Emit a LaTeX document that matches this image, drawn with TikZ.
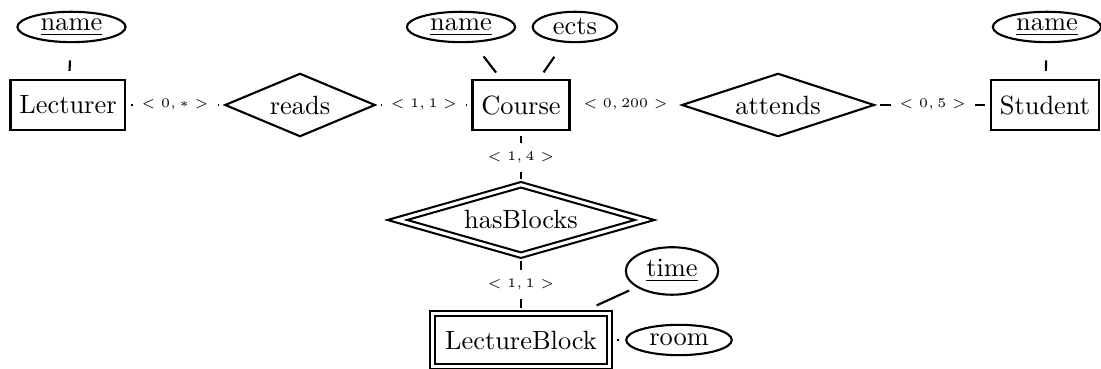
\documentclass[tikz,border=0pt]{standalone}
\usepackage{amsmath}
\usepackage{tikz}
\usetikzlibrary{shapes.geometric}

\begin{document}
\begin{tikzpicture}[
    entitybox/.style={draw, thick, rectangle, minimum height=19pt},
    weakbox/.style={entitybox, double, double distance=1.2pt, minimum width=67pt, minimum height=20pt},
    relship/.style={draw, thick, diamond, aspect=3, inner sep=0pt},
    weakrel/.style={relship, double, double distance=1.2pt},
    attrib/.style={draw, thick, ellipse, inner sep=0pt, minimum height=11.5pt},
    card/.style={fill=white, font=\tiny},
    conn/.style={thick, shorten <=1.8pt, shorten >=1.8pt},
    attrconn/.style={thick, shorten <=6.5pt, shorten >=3pt}
  ]
    \useasboundingbox (0,0) rectangle (14.66,4.90);

    % Lecturer
    \node[entitybox] (lecturer) at (0.905,3.502) {Lecturer};
    \node[attrib, minimum width=41pt] (lecname) at (0.952,4.541) {\underline{name}};
    \draw[attrconn] (lecname) -- (lecturer);

    % reads
    \node[relship, minimum width=57pt, minimum height=24pt] (reads) at (3.995,3.502) {reads};
    \draw[conn] (lecturer) -- node[card] {$<0,*>$} (reads);

    % Course
    \node[entitybox] (course) at (6.937,3.502) {Course};
    \node[attrib, minimum width=41pt] (coursename) at (6.138,4.541) {\underline{name}};
    \node[attrib, minimum width=32pt] (ects) at (7.656,4.541) {ects};
    \draw[attrconn] (coursename) -- (course);
    \draw[attrconn] (ects) -- (course);
    \draw[conn] (reads) -- node[card] {$<1,1>$} (course);

    % attends
    \node[relship, minimum width=73pt, minimum height=24pt] (attends) at (10.36,3.502) {attends};
    \draw[conn] (course) -- node[card] {$<0,200>$} (attends);

    % Student
    \node[entitybox] (student) at (13.915,3.502) {Student};
    \node[attrib, minimum width=41pt] (studname) at (13.94,4.541) {\underline{name}};
    \draw[attrconn] (studname) -- (student);
    \draw[conn] (attends) -- node[card] {$<0,5>$} (student);

    % hasBlocks
    \node[weakrel, minimum width=94pt, minimum height=27pt] (hasblocks) at (6.937,1.971) {hasBlocks};
    \draw[conn] (course) -- node[card] {$<1,4>$} (hasblocks);

    % LectureBlock
    \node[weakbox] (lectureblock) at (6.937,0.373) {LectureBlock};
    \node[attrib, minimum width=35pt, minimum height=18pt] (time) at (8.948,1.292) {\underline{time}};
    \node[attrib, minimum width=40pt] (room) at (9.041,0.373) {room};
    \draw[conn] (hasblocks) -- node[card] {$<1,1>$} (lectureblock);
    \draw[attrconn] (lectureblock) -- (time);
    \draw[conn, shorten <=2.5pt, shorten >=2.5pt] (lectureblock) -- (room);
\end{tikzpicture}
\end{document}
